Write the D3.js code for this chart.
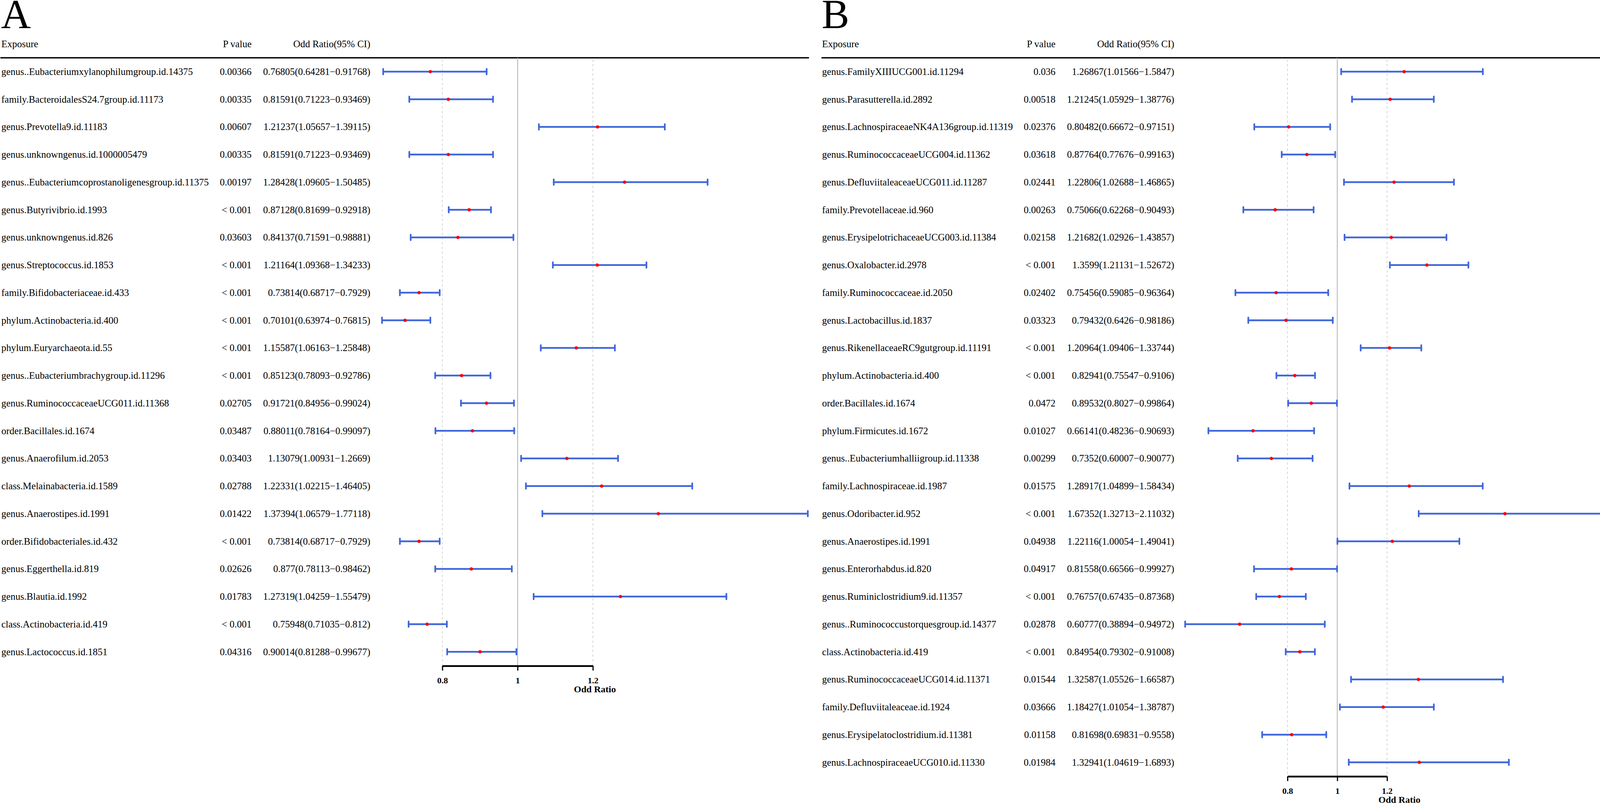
<!DOCTYPE html>
<html>
<head>
<meta charset="utf-8">
<script src="https://cdn.jsdelivr.net/npm/d3@7"></script>
<style>
  html, body { margin: 0; padding: 0; background: #fff; }
  svg { display: block; font-family: "Liberation Serif", "Times New Roman", serif; }
</style>
</head>
<body>
<div id="chart"></div>
<script>
// Panel A data
var exposureA = [
    "genus..Eubacteriumxylanophilumgroup.id.14375", "family.BacteroidalesS24.7group.id.11173",
    "genus.Prevotella9.id.11183", "genus.unknowngenus.id.1000005479",
    "genus..Eubacteriumcoprostanoligenesgroup.id.11375", "genus.Butyrivibrio.id.1993",
    "genus.unknowngenus.id.826", "genus.Streptococcus.id.1853",
    "family.Bifidobacteriaceae.id.433", "phylum.Actinobacteria.id.400",
    "phylum.Euryarchaeota.id.55", "genus..Eubacteriumbrachygroup.id.11296",
    "genus.RuminococcaceaeUCG011.id.11368", "order.Bacillales.id.1674",
    "genus.Anaerofilum.id.2053", "class.Melainabacteria.id.1589",
    "genus.Anaerostipes.id.1991", "order.Bifidobacteriales.id.432",
    "genus.Eggerthella.id.819", "genus.Blautia.id.1992",
    "class.Actinobacteria.id.419", "genus.Lactococcus.id.1851"
];
var pvalA = ["0.00366", "0.00335", "0.00607", "0.00335", "0.00197", "< 0.001", "0.03603", "< 0.001",
    "< 0.001", "< 0.001", "< 0.001", "< 0.001", "0.02705", "0.03487", "0.03403", "0.02788",
    "0.01422", "< 0.001", "0.02626", "0.01783", "< 0.001", "0.04316"];
var orA = [0.76805, 0.81591, 1.21237, 0.81591, 1.28428, 0.87128, 0.84137, 1.21164, 0.73814, 0.70101, 1.15587,
    0.85123, 0.91721, 0.88011, 1.13079, 1.22331, 1.37394, 0.73814, 0.877, 1.27319, 0.75948, 0.90014];
var lowA = [0.64281, 0.71223, 1.05657, 0.71223, 1.09605, 0.81699, 0.71591, 1.09368, 0.68717, 0.63974, 1.06163,
    0.78093, 0.84956, 0.78164, 1.00931, 1.02215, 1.06579, 0.68717, 0.78113, 1.04259, 0.71035, 0.81288];
var highA = [0.91768, 0.93469, 1.39115, 0.93469, 1.50485, 0.92918, 0.98881, 1.34233, 0.7929, 0.76815, 1.25848,
    0.92786, 0.99024, 0.99097, 1.2669, 1.46405, 1.77118, 0.7929, 0.98462, 1.55479, 0.812, 0.99677];

// Panel B data
var exposureB = [
    "genus.FamilyXIIIUCG001.id.11294", "genus.Parasutterella.id.2892",
    "genus.LachnospiraceaeNK4A136group.id.11319", "genus.RuminococcaceaeUCG004.id.11362",
    "genus.DefluviitaleaceaeUCG011.id.11287", "family.Prevotellaceae.id.960",
    "genus.ErysipelotrichaceaeUCG003.id.11384", "genus.Oxalobacter.id.2978",
    "family.Ruminococcaceae.id.2050", "genus.Lactobacillus.id.1837",
    "genus.RikenellaceaeRC9gutgroup.id.11191", "phylum.Actinobacteria.id.400",
    "order.Bacillales.id.1674", "phylum.Firmicutes.id.1672",
    "genus..Eubacteriumhalliigroup.id.11338", "family.Lachnospiraceae.id.1987",
    "genus.Odoribacter.id.952", "genus.Anaerostipes.id.1991",
    "genus.Enterorhabdus.id.820", "genus.Ruminiclostridium9.id.11357",
    "genus..Ruminococcustorquesgroup.id.14377", "class.Actinobacteria.id.419",
    "genus.RuminococcaceaeUCG014.id.11371", "family.Defluviitaleaceae.id.1924",
    "genus.Erysipelatoclostridium.id.11381", "genus.LachnospiraceaeUCG010.id.11330"
];
var pvalB = ["0.036", "0.00518", "0.02376", "0.03618", "0.02441", "0.00263", "0.02158", "< 0.001",
    "0.02402", "0.03323", "< 0.001", "< 0.001", "0.0472", "0.01027", "0.00299", "0.01575",
    "< 0.001", "0.04938", "0.04917", "< 0.001", "0.02878", "< 0.001", "0.01544", "0.03666",
    "0.01158", "0.01984"];
var orB = [1.26867, 1.21245, 0.80482, 0.87764, 1.22806, 0.75066, 1.21682, 1.3599, 0.75456, 0.79432, 1.20964,
    0.82941, 0.89532, 0.66141, 0.7352, 1.28917, 1.67352, 1.22116, 0.81558, 0.76757, 0.60777, 0.84954,
    1.32587, 1.18427, 0.81698, 1.32941];
var lowB = [1.01566, 1.05929, 0.66672, 0.77676, 1.02688, 0.62268, 1.02926, 1.21131, 0.59085, 0.6426, 1.09406,
    0.75547, 0.8027, 0.48236, 0.60007, 1.04899, 1.32713, 1.00054, 0.66566, 0.67435, 0.38894, 0.79302,
    1.05526, 1.01054, 0.69831, 1.04619];
var highB = [1.5847, 1.38776, 0.97151, 0.99163, 1.46865, 0.90493, 1.43857, 1.52672, 0.96364, 0.98186, 1.33744,
    0.9106, 0.99864, 0.90693, 0.90077, 1.58434, 2.11032, 1.49041, 0.99927, 0.87368, 0.94972, 0.91008,
    1.66587, 1.38787, 0.9558, 1.6893];

var tickValues = [0.8, 1, 1.2];
var dashedRefs = [0.8, 1.2];
var headers = ["Exposure", "P value", "Odd Ratio(95% CI)"];

var width = 4134,
    height = 2059,
    rowTop = 183.5,
    rowStep = 70.75,
    headerY = 113,
    lineY = 148,
    fontSize = 25;

var svg = d3.select('#chart')
    .append('svg')
        .attr('width', width)
        .attr('height', height);

function forest(opts) {
    var n = opts.exposure.length;
    var g = svg.append('g');

    // scales
    var xScale = d3.scaleLinear()
        .domain([d3.min(opts.low), d3.max(opts.high)])
        .range(opts.plotRange);
    var yScale = d3.scalePoint()
        .domain(d3.range(n))
        .range([rowTop, rowTop + (n - 1) * rowStep]);
    var axisY = yScale(n - 1) + 36;

    // panel letter
    g.append('text')
        .attr('x', opts.left - 1)
        .attr('y', 72)
        .attr('font-size', 106)
        .text(opts.letter);

    // header
    var headerX = [opts.left, opts.pRight, opts.orRight],
        anchors = ['start', 'end', 'end'];
    g.selectAll('.hdr')
        .data(headers)
        .enter()
        .append('text')
            .attr('x', function (d, i) { return headerX[i]; })
            .attr('y', headerY)
            .attr('dy', '0.33em')
            .attr('text-anchor', function (d, i) { return anchors[i]; })
            .attr('font-size', fontSize)
            .text(function (d) { return d; });

    g.append('line')
        .attr('x1', opts.lineX[0]).attr('x2', opts.lineX[1])
        .attr('y1', lineY).attr('y2', lineY)
        .attr('stroke', '#000')
        .attr('stroke-width', 3.5);

    // reference lines
    g.selectAll('.dash')
        .data(dashedRefs)
        .enter()
        .append('line')
            .attr('x1', function (d) { return xScale(d); })
            .attr('x2', function (d) { return xScale(d); })
            .attr('y1', lineY + 4).attr('y2', axisY)
            .attr('stroke', '#d6d6d6')
            .attr('stroke-width', 2)
            .attr('stroke-dasharray', '6,6');
    g.append('line')
        .attr('x1', xScale(1)).attr('x2', xScale(1))
        .attr('y1', lineY).attr('y2', axisY)
        .attr('stroke', '#b0b0b0')
        .attr('stroke-width', 2);

    // text columns
    var rows = g.selectAll('.row')
        .data(d3.range(n))
        .enter()
        .append('g')
            .attr('transform', function (i) { return 'translate(0,' + yScale(i) + ')'; })
            .attr('font-size', fontSize);
    rows.append('text')
        .attr('x', opts.left)
        .attr('dy', '0.33em')
        .text(function (i) { return opts.exposure[i]; });
    rows.append('text')
        .attr('x', opts.pRight)
        .attr('dy', '0.33em')
        .attr('text-anchor', 'end')
        .text(function (i) { return opts.pval[i]; });
    rows.append('text')
        .attr('x', opts.orRight)
        .attr('dy', '0.33em')
        .attr('text-anchor', 'end')
        .text(function (i) { return opts.or[i] + '(' + opts.low[i] + '\u2212' + opts.high[i] + ')'; });

    // CI bars
    var ci = rows.append('g')
        .attr('stroke', '#3f66dc')
        .attr('stroke-width', 4.3)
        .attr('stroke-linecap', 'round');
    ci.append('line')
        .attr('x1', function (i) { return xScale(opts.low[i]); })
        .attr('x2', function (i) { return xScale(opts.high[i]); });
    ci.append('line')
        .attr('x1', function (i) { return xScale(opts.low[i]); })
        .attr('x2', function (i) { return xScale(opts.low[i]); })
        .attr('y1', -7).attr('y2', 7);
    ci.append('line')
        .attr('x1', function (i) { return xScale(opts.high[i]); })
        .attr('x2', function (i) { return xScale(opts.high[i]); })
        .attr('y1', -7).attr('y2', 7);
    rows.append('circle')
        .attr('cx', function (i) { return xScale(opts.or[i]); })
        .attr('r', 4.3)
        .attr('fill', '#ff0000');

    // x axis only across the tick span
    var axisScale = d3.scaleLinear()
        .domain([tickValues[0], tickValues[tickValues.length - 1]])
        .range([xScale(tickValues[0]), xScale(tickValues[tickValues.length - 1])]);
    var axis = g.append('g')
        .attr('transform', 'translate(0,' + axisY + ')')
        .call(d3.axisBottom(axisScale)
            .tickValues(tickValues)
            .tickFormat(d3.format('~g'))
            .tickSize(12)
            .tickSizeOuter(0));
    axis.select('.domain')
        .attr('stroke', '#000')
        .attr('stroke-width', 4.5);
    axis.selectAll('.tick line')
        .attr('stroke', '#000')
        .attr('stroke-width', 3);
    axis.selectAll('.tick text')
        .attr('y', 37)
        .attr('dy', '0.33em')
        .attr('fill', '#000')
        .attr('font-family', '"Liberation Serif", serif')
        .attr('font-weight', 'bold')
        .attr('font-size', 22);

    g.append('text')
        .attr('x', d3.mean(opts.plotRange))
        .attr('y', axisY + 60)
        .attr('dy', '0.33em')
        .attr('text-anchor', 'middle')
        .attr('font-weight', 'bold')
        .attr('font-size', 24)
        .text('Odd Ratio');
}

forest({
    letter: 'A', exposure: exposureA, pval: pvalA, or: orA, low: lowA, high: highA,
    left: 3.5, pRight: 644, orRight: 948, plotRange: [978, 2068], lineX: [1, 2071]
});
forest({
    letter: 'B', exposure: exposureB, pval: pvalB, or: orB, low: lowB, high: highB,
    left: 2104.5, pRight: 2702, orRight: 3006, plotRange: [3034, 4131], lineX: [2103, 4134]
});
</script>
</body>
</html>
